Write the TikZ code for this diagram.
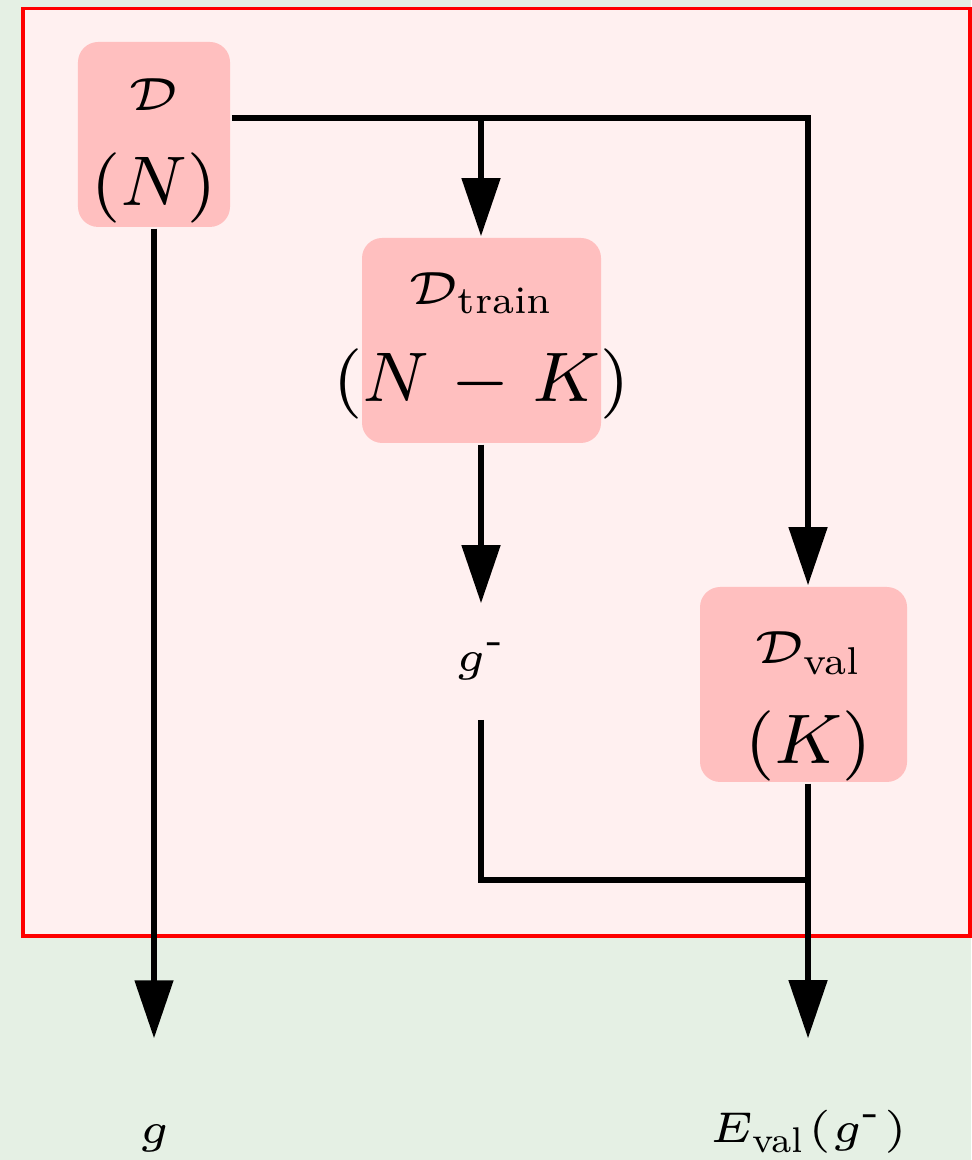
\RequirePackage{fix-cm}
\documentclass[tikz,border=0pt]{standalone}
\usepackage{amsmath}
\usetikzlibrary{arrows.meta}
\definecolor{cbg}{HTML}{E5F0E4}
\definecolor{cframe}{HTML}{FFF0F0}
\definecolor{cbox}{HTML}{FFBFBF}
\definecolor{cred}{HTML}{FF0000}
\newcommand{\smallmath}{\fontsize{5.3}{6}\selectfont}
\newcommand{\subtxt}[2][0.63]{\mbox{\scalebox{#1}{\fontsize{7}{8}\selectfont #2}}}
\newcommand{\gminus}{g^{\subtxt[0.7]{-}}}
\tikzset{
  dbox/.style={fill=cbox, rounded corners=2.3pt, inner sep=0pt, align=center, font=\footnotesize},
  wire/.style={draw=black, line width=0.62pt},
  arrow/.style={wire, -{Triangle[length=6.6pt, width=4.3pt]}},
  lbl/.style={inner sep=0pt, font=\fontsize{4.9}{6}\selectfont, minimum height=#1},
  frame/.style={draw=cred, fill=cframe, line width=0.4pt},
}

\begin{document}
\begin{tikzpicture}[x=0.1138pt, y=-0.1138pt]
  \useasboundingbox (0,0) rectangle (971,1160);
  \fill[cbg] (0,0) rectangle (971,1160);
  \draw[frame] (23,8.5) rectangle (970,936);
  % data sets
  \node[dbox, minimum width=17.30pt, minimum height=21.05pt] (d) at (154,134.5)
    {\rule{0pt}{7.3pt}{\smallmath$\mathcal{D}$}\\[1.3pt]$(N)$};
  \node[dbox, minimum width=27.20pt, minimum height=23.33pt] (dtrain) at (481.5,340.5)
    {\rule{0pt}{4.8pt}{\smallmath$\mathcal{D}_{\subtxt{train}}$}\\[1.5pt]\makebox[0pt]{$(N\mskip1.5mu-\mskip1.5mu K)$}};
  \node[dbox, minimum width=23.56pt, minimum height=22.19pt] (dval) at (803.5,684.5)
    {\rule{0pt}{8.6pt}\makebox[0pt]{\hspace{1.1pt}\smallmath$\mathcal{D}_{\subtxt{val}}$}\\[1.8pt]\makebox[0pt]{\hspace{1.1pt}$(K)$}};
  % results
  \node[lbl=12.86pt] (gminus) at (481,661.5) {$\gminus$};
  \node[lbl=22.3pt] (g) at (154,1138) {$g$};
  \node[lbl=20.94pt] (eval) at (808,1132) {$E_{\subtxt[0.58]{val}}(\gminus)$};
  % split point and corners
  \coordinate (fork) at (481,118);
  \coordinate (turn) at (808,118);
  \coordinate (merge) at (808,880);
  \draw[arrow] (d.east |- fork) -- (turn) -- (dval.north -| turn);
  \draw[arrow] (fork) -- (fork |- dtrain.north);
  \draw[arrow] (dtrain.south -| fork) -- (gminus.north);
  \draw[wire] (gminus.south) |- (merge);
  \draw[arrow] (dval.south -| merge) -- (eval.north);
  \draw[arrow] (d.south) -- (g.north);
\end{tikzpicture}
\end{document}
